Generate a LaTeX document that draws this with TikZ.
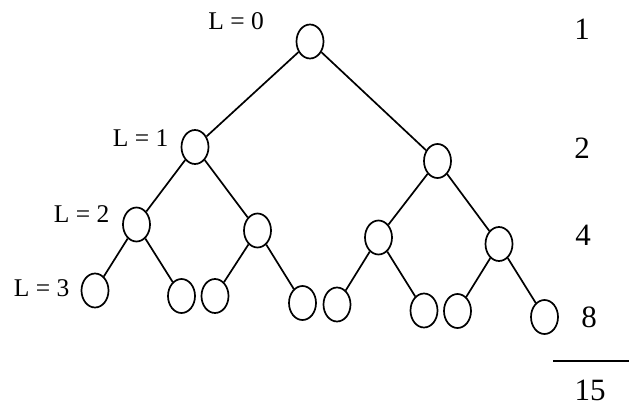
\documentclass[tikz,border=0pt]{standalone}
\usepackage{fontspec}
\setmainfont{Liberation Serif}
\usetikzlibrary{shapes.geometric}
\begin{document}
\begin{tikzpicture}[x=1bp,y=-1bp,
  vertex/.style={ellipse,draw,line width=1.7bp,inner sep=0pt,
                 minimum width=27bp,minimum height=34bp},
  edge/.style={line width=1.7bp},
  levellabel/.style={inner sep=0pt,font=\fontsize{25.5bp}{25.5bp}\selectfont},
  countlabel/.style={inner sep=0pt,font=\fontsize{31bp}{31bp}\selectfont}]
\useasboundingbox (0,0) rectangle (632,406);

% level 0
\node[vertex] (r) at (310,41.5) {};
% level 1
\node[vertex] (a) at (195,147) {};
\node[vertex] (b) at (437.5,161) {};
% level 2
\node[vertex] (aa) at (136.5,224.5) {};
\node[vertex] (ab) at (257.5,230.5) {};
\node[vertex] (ba) at (378.5,237.5) {};
\node[vertex] (bb) at (499,244) {};
% level 3
\node[vertex] (aaa) at (95,290.5) {};
\node[vertex] (aab) at (181.5,296) {};
\node[vertex] (aba) at (215,296) {};
\node[vertex] (abb) at (302.5,303) {};
\node[vertex] (baa) at (337,304.5) {};
\node[vertex] (bab) at (424,310.5) {};
\node[vertex] (bba) at (457.5,311) {};
\node[vertex] (bbb) at (544.5,317) {};

% tree edges
\draw[edge] (r) -- (a);
\draw[edge] (r) -- (b);
\draw[edge] (a) -- (aa);
\draw[edge] (a) -- (ab);
\draw[edge] (b) -- (ba);
\draw[edge] (b) -- (bb);
\draw[edge] (aa) -- (aaa);
\draw[edge] (aa) -- (aab);
\draw[edge] (ab) -- (aba);
\draw[edge] (ab) -- (abb);
\draw[edge] (ba) -- (baa);
\draw[edge] (ba) -- (bab);
\draw[edge] (bb) -- (bba);
\draw[edge] (bb) -- (bbb);

% level labels
\node[levellabel,anchor=east] (l0) at (264,21.5) {L = 0};
\node[levellabel,anchor=east] (l1) at (168.5,138) {L = 1};
\node[levellabel,anchor=east] (l2) at (109.5,214) {L = 2};
\node[levellabel,anchor=east] (l3) at (69.5,288) {L = 3};

% node counts per level and their sum
\node[countlabel] (c1) at (582,29) {1};
\node[countlabel] (c2) at (582,148) {2};
\node[countlabel] (c4) at (583,235) {4};
\node[countlabel] (c8) at (589,317.5) {8};
\coordinate (s1) at (553,361);
\coordinate (s2) at (628.5,361);
\draw[line width=1.7bp] (s1) -- (s2);
\node[countlabel] (c15) at (590,390) {15};
\end{tikzpicture}
\end{document}
